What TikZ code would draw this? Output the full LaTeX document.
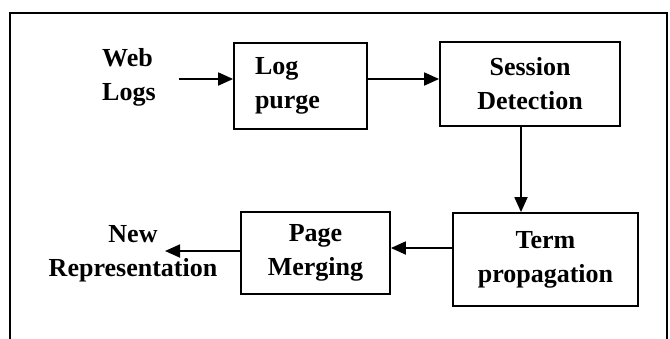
\documentclass[tikz,border=0pt]{standalone}
\usepackage{fontspec}
\setmainfont{Liberation Serif}
\usetikzlibrary{arrows.meta}
\begin{document}
\begin{tikzpicture}[x=1pt,y=-1pt,
  every node/.style={font=\fontsize{26}{34}\selectfont\bfseries},
  procbox/.style={draw, line width=1.8pt, inner sep=0pt, align=center},
  lbl/.style={inner sep=0pt, align=center},
  arr/.style={line width=1.8pt, -{Triangle[length=15pt,width=13pt]}}]
\useasboundingbox (0,0) rectangle (670,338);
% frame
\draw[line width=1.8pt] (10,345) -- (10,13) -- (667,13) -- (667,345);
% boxes
\node[procbox, minimum width=133pt, minimum height=86pt, text width=91pt, align=left, inner xsep=21pt] (log) at (300.5,86) {Log\\purge};
\node[procbox, minimum width=180pt, minimum height=84pt] (sess) at (530,84) {Session\\Detection};
\node[procbox, minimum width=185pt, minimum height=93pt] (term) at (545.5,259.5) {Term\\propagation};
\node[procbox, minimum width=149pt, minimum height=82pt] (page) at (315.5,253) {Page\\Merging};
% labels
\node[lbl, align=left, inner xsep=23pt, anchor=west] (web) at (79,77) {Web\\Logs};
\node[lbl] (newrep) at (133,254) {New\\Representation};
\coordinate (newend) at (165,251);
% connectors
\draw[arr] (web.east |- 0,79) -- ([yshift=7pt]log.west);
\draw[arr] ([yshift=7pt]log.east) -- ([yshift=5pt]sess.west);
\coordinate (s1) at ([xshift=-9pt]sess.south);
\draw[arr] (s1) -- (s1 |- term.north);
\coordinate (t1) at ([yshift=11.5pt]term.west);
\draw[arr] (t1) -- (t1 -| page.east);
\draw[arr] ([yshift=2pt]page.west) -- (newend);
\end{tikzpicture}
\end{document}
